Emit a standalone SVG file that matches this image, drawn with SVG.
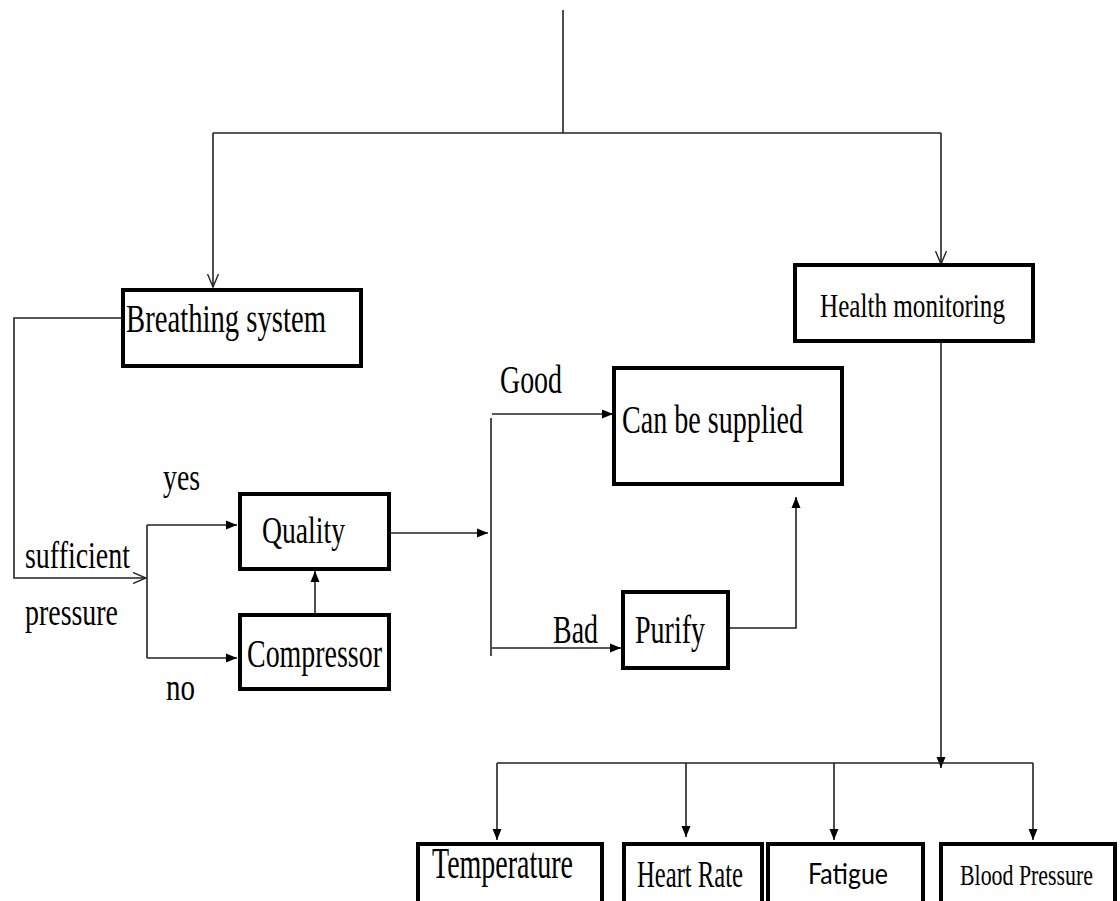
<svg xmlns="http://www.w3.org/2000/svg" width="1120" height="901" viewBox="0 0 1120 901">
<style>
.box{fill:#fff;stroke:#000;stroke-width:4}
.ln{fill:none;stroke:#222;stroke-width:1.6}
.t{font-family:"Liberation Serif","Times New Roman",serif;fill:#000}
.s{font-family:Lato,"Liberation Sans",sans-serif;fill:#000}
</style>
<defs>
<marker id="fa" markerUnits="userSpaceOnUse" markerWidth="11" markerHeight="10" refX="11" refY="5" orient="auto" viewBox="0 0 11 10">
<path d="M0,0.5 L11,5 L0,9.5 z" fill="#000"/>
</marker>
<marker id="oa" markerUnits="userSpaceOnUse" markerWidth="14" markerHeight="12" refX="13" refY="6" orient="auto" viewBox="0 0 14 12">
<path d="M0,0.5 L13,6 L0,11.5" fill="none" stroke="#222" stroke-width="1.4"/>
</marker>
</defs>
<rect width="1120" height="901" fill="#fff"/>
<g id="connectors">
<path class="ln" d="M563,10 V133"/>
<path class="ln" d="M213,133 H941"/>
<path class="ln" d="M213,133 V287" marker-end="url(#oa)"/>
<path class="ln" d="M941,133 V264" marker-end="url(#oa)"/>
<path class="ln" d="M123,318 H14 V578 H146" marker-end="url(#oa)"/>
<path class="ln" d="M147,525 V658"/>
<path class="ln" d="M147,525 H237" marker-end="url(#fa)"/>
<path class="ln" d="M147,658 H237" marker-end="url(#fa)"/>
<path class="ln" d="M315,614 V571" marker-end="url(#fa)"/>
<path class="ln" d="M389,533 H488" marker-end="url(#fa)"/>
<path class="ln" d="M491,418 V656"/>
<path class="ln" d="M492,414 H613" marker-end="url(#fa)"/>
<path class="ln" d="M492,648 H621" marker-end="url(#fa)"/>
<path class="ln" d="M728,628 H796 V497" marker-end="url(#fa)"/>
<path class="ln" d="M941,343 V768" marker-end="url(#fa)"/>
<path class="ln" d="M497,763 H1033"/>
<path class="ln" d="M497,763 V840" marker-end="url(#fa)"/>
<path class="ln" d="M686,763 V837" marker-end="url(#fa)"/>
<path class="ln" d="M834,763 V840" marker-end="url(#fa)"/>
<path class="ln" d="M1033,763 V840" marker-end="url(#fa)"/>
</g>
<g id="labels">
<text class="t" x="163" y="490" font-size="38" textLength="37" lengthAdjust="spacingAndGlyphs">yes</text>
<text class="t" x="25" y="568" font-size="38" textLength="105" lengthAdjust="spacingAndGlyphs">sufficient</text>
<text class="t" x="25" y="625" font-size="38" textLength="93" lengthAdjust="spacingAndGlyphs">pressure</text>
<text class="t" x="166" y="700" font-size="38" textLength="29" lengthAdjust="spacingAndGlyphs">no</text>
<text class="t" x="500" y="393" font-size="40" textLength="62" lengthAdjust="spacingAndGlyphs">Good</text>
<text class="t" x="553" y="643" font-size="40" textLength="45" lengthAdjust="spacingAndGlyphs">Bad</text>
</g>
<g id="breathing">
<rect class="box" x="123" y="290" width="238" height="76"/>
<text class="t" x="126" y="332" font-size="40" textLength="200" lengthAdjust="spacingAndGlyphs">Breathing system</text>
</g>
<g id="health">
<rect class="box" x="795" y="265" width="238" height="76"/>
<text class="t" x="820" y="317" font-size="33" textLength="185" lengthAdjust="spacingAndGlyphs">Health monitoring</text>
</g>
<g id="quality">
<rect class="box" x="240" y="494" width="149" height="75"/>
<text class="t" x="262" y="543" font-size="38" textLength="83" lengthAdjust="spacingAndGlyphs">Quality</text>
</g>
<g id="compressor">
<rect class="box" x="240" y="615" width="149" height="74"/>
<text class="t" x="247" y="667" font-size="40" textLength="135" lengthAdjust="spacingAndGlyphs">Compressor</text>
</g>
<g id="supplied">
<rect class="box" x="614" y="368" width="228" height="116"/>
<text class="t" x="622" y="433" font-size="40" textLength="181" lengthAdjust="spacingAndGlyphs">Can be supplied</text>
</g>
<g id="purify">
<rect class="box" x="623" y="592" width="105" height="76"/>
<text class="t" x="635" y="643" font-size="40" textLength="70" lengthAdjust="spacingAndGlyphs">Purify</text>
</g>
<g id="temperature">
<rect class="box" x="418" y="844" width="184" height="62"/>
<text class="t" x="432" y="878" font-size="45" textLength="141" lengthAdjust="spacingAndGlyphs">Temperature</text>
</g>
<g id="heartrate">
<rect class="box" x="624" y="844" width="138" height="62"/>
<text class="t" x="637" y="887" font-size="37" textLength="106" lengthAdjust="spacingAndGlyphs">Heart Rate</text>
</g>
<g id="fatigue">
<rect class="box" x="768" y="844" width="155" height="62"/>
<text class="s" x="808" y="884" font-size="29" textLength="80" lengthAdjust="spacingAndGlyphs">Fatigue</text>
</g>
<g id="bloodpressure">
<rect class="box" x="941" y="844" width="174" height="62"/>
<text class="t" x="960" y="885" font-size="29" textLength="133" lengthAdjust="spacingAndGlyphs">Blood Pressure</text>
</g>
</svg>
